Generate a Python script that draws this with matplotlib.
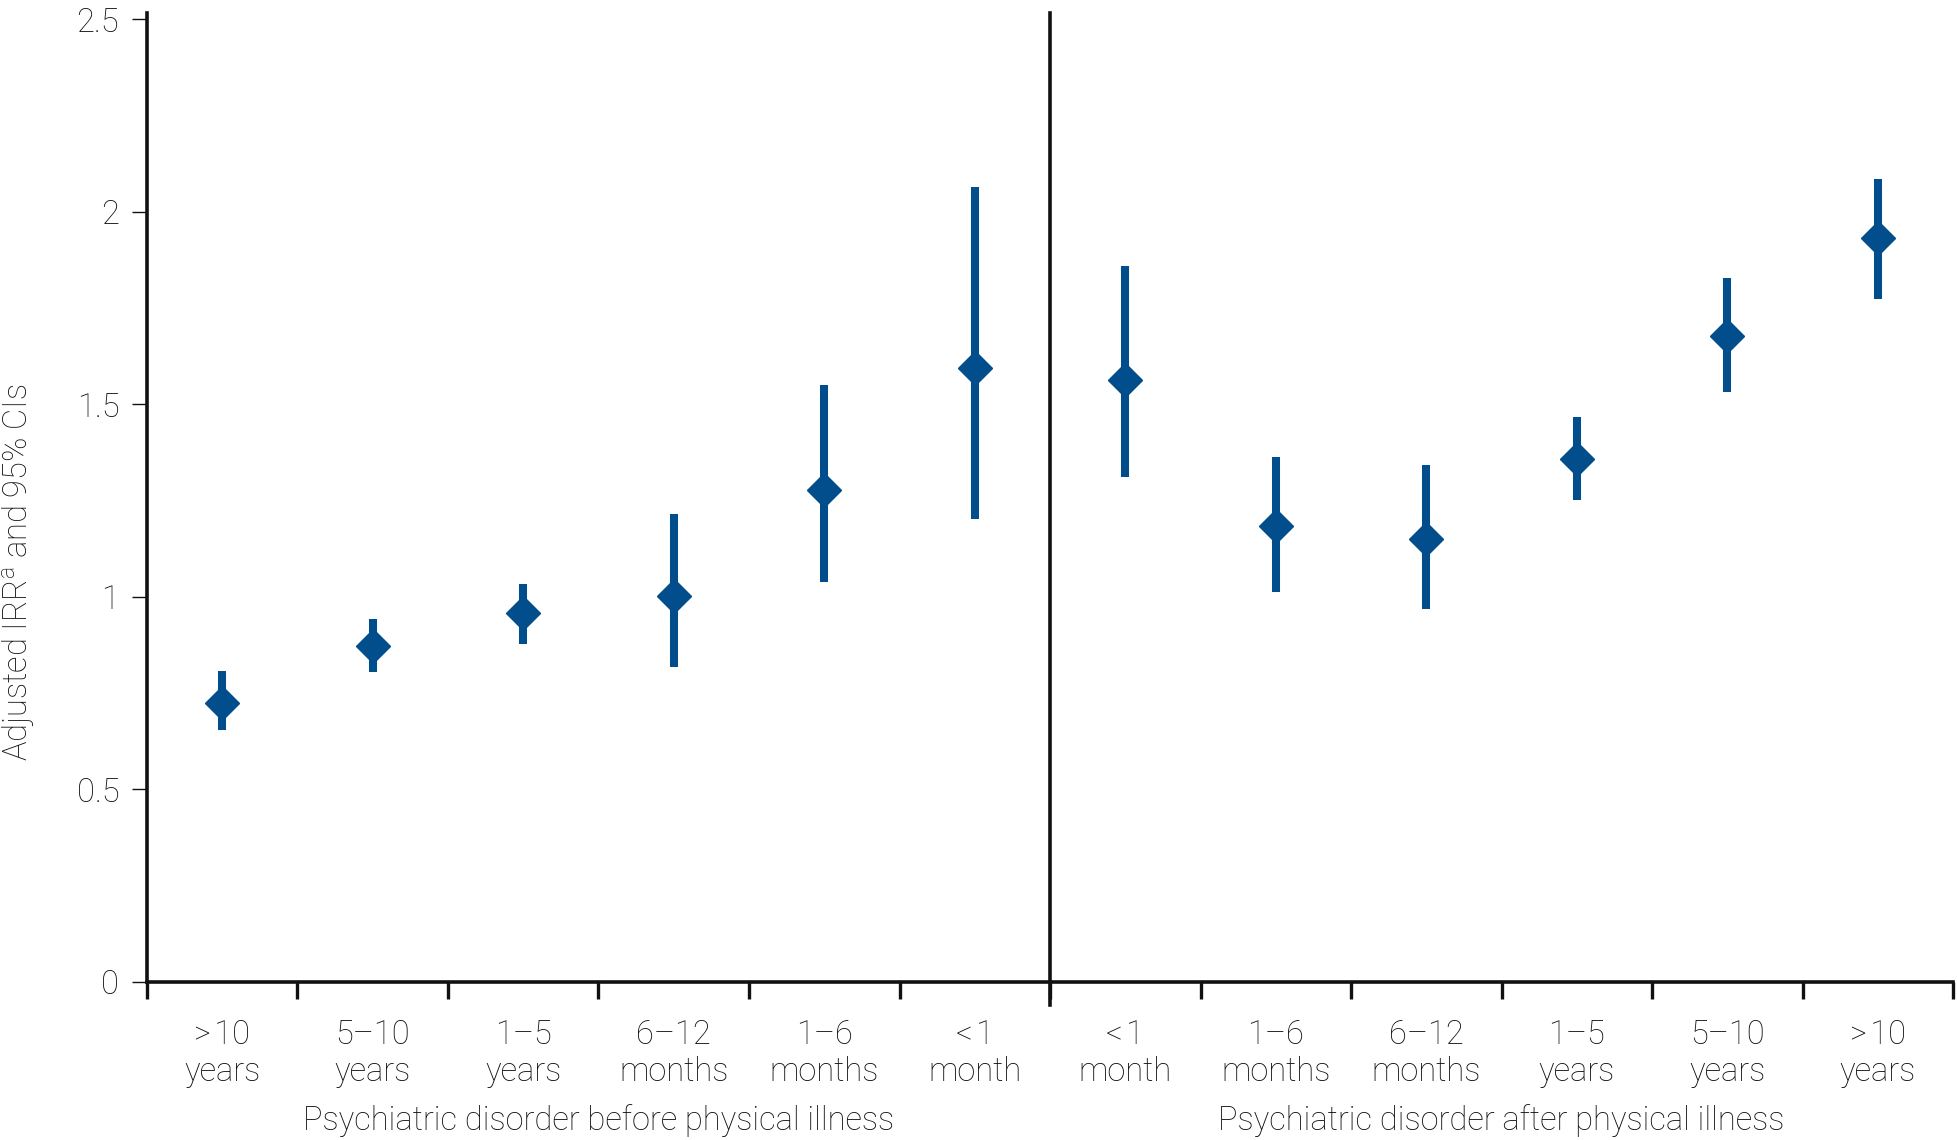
import numpy as np
import matplotlib.pyplot as plt

plt.rcParams['font.family'] = ['Roboto', 'DejaVu Sans']
plt.rcParams['font.weight'] = 'light'
plt.rcParams['mathtext.default'] = 'regular'

# periods, left half = before physical illness, right half = after
periods = ['>\u200a10\nyears', '5\u201310\nyears', '1\u20135\nyears', '6\u201312\nmonths',
           '1\u20136\nmonths', '<\u200a1\nmonth',
           '<\u200a1\nmonth', '1\u20136\nmonths', '6\u201312\nmonths', '1\u20135\nyears',
           '5\u201310\nyears', '>\u200a10\nyears']
irr = [0.724, 0.872, 0.959, 1.003, 1.277, 1.595,
       1.564, 1.184, 1.149, 1.358, 1.676, 1.931]
ci_low = [0.653, 0.804, 0.878, 0.817, 1.039, 1.201,
          1.312, 1.013, 0.968, 1.252, 1.532, 1.773]
ci_high = [0.808, 0.943, 1.033, 1.216, 1.551, 2.064,
           1.858, 1.364, 1.342, 1.467, 1.828, 2.085]
groups = ['Psychiatric disorder before physical illness',
          'Psychiatric disorder after physical illness']

blue = '#024e8c'
ink = '#111111'
fs = 23.5

fig = plt.figure(figsize=(19.57, 11.40), dpi=100)
ax = fig.add_axes([0.0751, 0.1386, 0.9229, 0.8504])

x = np.arange(len(irr)) + 0.5
y = np.array(irr)
yerr = [y - np.array(ci_low), np.array(ci_high) - y]
ax.errorbar(x, y, yerr=yerr, fmt='D', color=blue, ms=17, elinewidth=5.8,
            capsize=0, zorder=3)

ax.set_xlim(0, 12)
ax.set_ylim(0, 2.517)
ax.set_yticks([0, 0.5, 1, 1.5, 2, 2.5])
ax.set_yticklabels(['0', '0.5', '1', '1.5', '2', '2.5'])
ax.set_xticks(np.arange(0, 13))
ax.set_xticklabels([])
ax.set_xticks(x, minor=True)
ax.set_xticklabels(periods, minor=True, fontsize=fs, color=ink, linespacing=1.2)
ax.tick_params(axis='x', which='minor', length=0, pad=27)
ax.tick_params(axis='x', which='major', length=12, width=2.4, color=ink)
ax.tick_params(axis='y', length=11, width=1.0, color=ink, labelsize=fs,
               labelcolor=ink, pad=9)

for s in ['top', 'right']:
    ax.spines[s].set_visible(False)
for s in ['left', 'bottom']:
    ax.spines[s].set_linewidth(2.6)
    ax.spines[s].set_color(ink)

# divider between before/after
ax.plot([6, 6], [-0.06, 2.517], color=ink, lw=2.6, clip_on=False, zorder=2)

fig.text(0.0095, 0.498, 'Adjusted IRR$^{a}$ and 95% CIs', rotation=90,
         ha='center', va='center', fontsize=fs, color=ink)
ax.text(3, -0.36, groups[0], ha='center', va='center', fontsize=fs, color=ink)
ax.text(9, -0.36, groups[1], ha='center', va='center', fontsize=fs, color=ink)

fig.savefig('out.png', dpi=100)
